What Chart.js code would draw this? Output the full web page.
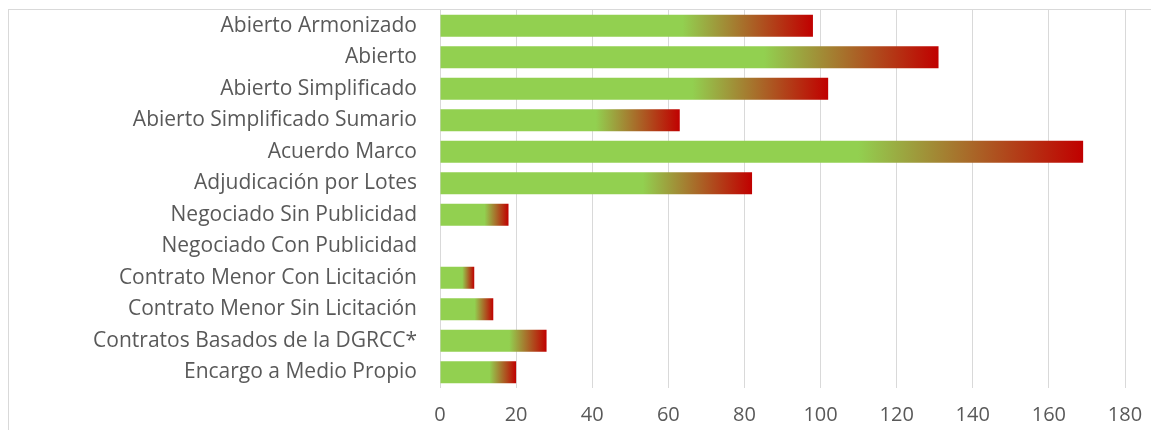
<!DOCTYPE html>
<html>
<head>
<meta charset="utf-8">
<script src="https://cdn.jsdelivr.net/npm/chart.js@4/dist/chart.umd.min.js"></script>
<style>
  html, body { margin: 0; padding: 0; background: #fff; overflow: hidden; }
  #wrap { position: relative; width: 1151px; height: 430px; }
  #frame { position: absolute; left: 8px; top: 9px; width: 1300px; height: 600px;
           border: 1px solid #D9D9D9; box-sizing: border-box; pointer-events: none; }
</style>
</head>
<body>
<div id="wrap">
  <canvas id="procedimientos-chart" width="1151" height="430"></canvas>
  <div id="frame"></div>
</div>
<script>
const tiposProcedimiento = ["Abierto Armonizado", "Abierto", "Abierto Simplificado", "Abierto Simplificado Sumario",
    "Acuerdo Marco", "Adjudicación por Lotes", "Negociado Sin Publicidad", "Negociado Con Publicidad",
    "Contrato Menor Con Licitación", "Contrato Menor Sin Licitación", "Contratos Basados de la DGRCC*",
    "Encargo a Medio Propio"];
const numContratos = [98, 131, 102, 63, 169, 82, 18, 0, 9, 14, 28, 20];
const xTicks = [0, 20, 40, 60, 80, 100, 120, 140, 160, 180];

const verde = "#92D050";
const rojo = "#C00000";
const gris = "#595959";

// degradado verde -> rojo a lo largo de cada barra
function rellenoBarra(ctx) {
    const chart = ctx.chart;
    if (!chart.chartArea) return verde;
    const x = chart.scales.x;
    const x0 = x.getPixelForValue(0);
    const x1 = x.getPixelForValue(ctx.raw);
    if (x1 - x0 < 1) return verde;
    const g = chart.ctx.createLinearGradient(x0, 0, x1, 0);
    g.addColorStop(0, verde);
    g.addColorStop(0.65, verde);
    g.addColorStop(1, rojo);
    return g;
}

function sinRelleno(s) {
    s.paddingTop = 0;
    s.paddingBottom = 0;
    s.paddingLeft = 0;
    s.paddingRight = 0;
}

new Chart("procedimientos-chart", {
    type: "bar",
    data: {
        labels: tiposProcedimiento,
        datasets: [{
            label: "Contratos",
            data: numContratos,
            backgroundColor: rellenoBarra,
            borderWidth: 0,
            categoryPercentage: 1,
            barPercentage: 0.7
        }]
    },
    options: {
        indexAxis: "y",
        responsive: false,
        animation: false,
        layout: { padding: { top: 10, right: 26, left: 0, bottom: 0 } },
        plugins: {
            legend: { display: false },
            tooltip: { enabled: false }
        },
        scales: {
            x: {
                min: 0,
                max: 180,
                afterBuildTicks: (s) => { s.ticks = xTicks.map(v => ({ value: v })); },
                afterFit: (s) => { s.height = 42; sinRelleno(s); },
                grid: { color: "#D9D9D9", lineWidth: 1, drawTicks: false },
                border: { display: false },
                ticks: {
                    padding: 15,
                    color: gris,
                    font: { family: "Open Sans", size: 20 }
                }
            },
            y: {
                afterFit: (s) => { s.width = 440; sinRelleno(s); },
                grid: { display: false, drawTicks: false },
                border: { display: false },
                ticks: {
                    padding: 23,
                    color: gris,
                    autoSkip: false,
                    font: { family: "Open Sans", size: 21 }
                }
            }
        }
    }
});
</script>
</body>
</html>
